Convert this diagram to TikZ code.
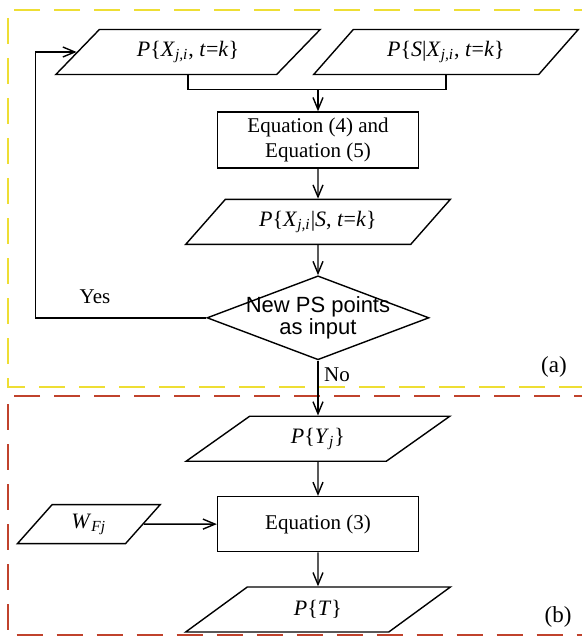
\documentclass[tikz,border=0pt]{standalone}
\usepackage{fontspec}
\setmainfont{Liberation Serif}
\setsansfont{Liberation Sans}
\usepackage{xcolor}
\usetikzlibrary{shapes.geometric,arrows.meta,positioning}
\definecolor{partA}{RGB}{238,222,52}
\definecolor{partB}{RGB}{192,66,44}
\newcommand{\ivar}[1]{\textit{#1}}
\newcommand{\isub}[1]{\textsubscript{\textit{#1}}}

\begin{document}
\begin{tikzpicture}[x=0.5pt, y=-0.5pt, every node/.style={font=\fontsize{10.5}{12.6}\selectfont}]

    % styles for the flow chart
    \tikzset{
        procbox/.style={draw=black, line width=0.7pt, minimum width=100.5pt, minimum height=28pt, align=center, inner sep=2pt},
        iobox/.style={trapezium, trapezium left angle=41, trapezium right angle=139, trapezium stretches=true, draw=black, line width=0.7pt, minimum width=132.5pt, minimum height=22.5pt, inner sep=0pt, font=\fontsize{11}{13}\selectfont},
        weightbox/.style={iobox, trapezium left angle=52, trapezium right angle=128, minimum width=71.5pt, minimum height=19.5pt},
        decision/.style={diamond, draw=black, line width=0.7pt, minimum width=111pt, minimum height=42pt, inner sep=0pt},
        dectext/.style={font=\sffamily\fontsize{11}{10}\selectfont, align=center},
        flowarrow/.style={-{Straight Barb[length=6pt,width=5pt]}, line width=0.7pt},
        flowline/.style={line width=0.7pt},
        partframe/.style={dash pattern=on 13pt off 7pt, line width=1.35pt},
        tag/.style={font=\fontsize{11.5}{13}\selectfont}
    }

    \useasboundingbox (0,0) rectangle (582,636);

    % dashed frames of part (a) and part (b)
    \draw[partframe, draw=partA] (600,10) -| (8,387) -- (600,387);
    \draw[partframe, draw=partB] (600,396) -| (8,635.5) -- (600,635.5);

    % inputs of part (a)
    \node[iobox] (inX) at (188,52) {\ivar{P}\{\ivar{X}\isub{j,i}, \ivar{t}=\ivar{k}\}};
    \node[iobox] (inS) at (446,52) {\ivar{P}\{\ivar{S}|\ivar{X}\isub{j,i}, \ivar{t}=\ivar{k}\}};

    \node[procbox] (eq45) at (318,140) {Equation (4) and\\Equation (5)};
    \node[iobox, below=15pt of eq45] (postX) {\ivar{P}\{\ivar{X}\isub{j,i}|\ivar{S}, \ivar{t}=\ivar{k}\}};
    \node[decision, below=15pt of postX, label={[dectext]center:New PS points\\as input}] (newps) {};

    % part (b)
    \node[iobox, below=27.5pt of newps] (probY) {\ivar{P}\{\ivar{Y}\isub{j}\}};
    \node[procbox, minimum height=27.5pt, below=17pt of probY] (eq3) {Equation (3)};
    \node[weightbox, left=36.5pt of eq3] (weight) {\ivar{W}\isub{Fj}};
    \node[iobox, below=17pt of eq3] (probT) {\ivar{P}\{\ivar{T}\}};

    % labels
    \node (yes) at (95,297) {Yes};
    \node (no) at (337,375) {No};
    \node[tag] (taga) at (554,367) {(a)};
    \node[tag] (tagb) at (558,617) {(b)};

    % connectors
    \coordinate[above=11pt of eq45.north] (merge);
    \draw[flowline] (inX.south) |- (merge) -| (inS.south);
    \draw[flowarrow] (merge) -- (eq45);
    \draw[flowarrow] (eq45) -- (postX);
    \draw[flowarrow] (postX) -- (newps);
    \draw[flowarrow] (newps.west) -- ++(-171,0) |- (inX.west);
    \draw[flowarrow] (newps) -- (probY);
    \draw[flowarrow] (probY) -- (eq3);
    \draw[flowarrow] (weight) -- (eq3);
    \draw[flowarrow] (eq3) -- (probT);

\end{tikzpicture}
\end{document}
